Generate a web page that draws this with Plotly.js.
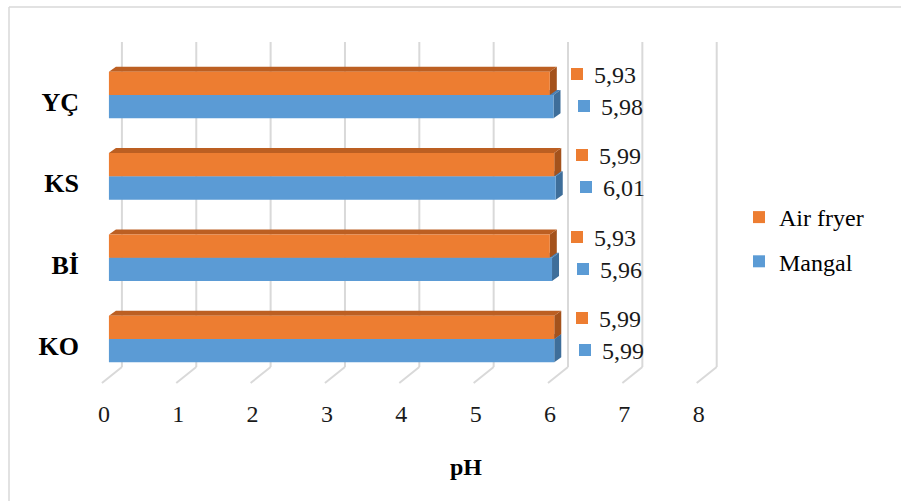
<!DOCTYPE html>
<html>
<head>
<meta charset="utf-8">
<script src="https://cdn.plot.ly/plotly-3.0.1.min.js"></script>
<style>html,body{margin:0;padding:0;background:#fff;}#chart{width:901px;height:501px;}</style>
</head>
<body>
<div id="chart"></div>
<script>
// ---- data ----
const categories = ['KO', 'Bİ', 'KS', 'YÇ'];
const airFryer = [5.99, 5.93, 5.99, 5.93];
const mangal = [5.99, 5.96, 6.01, 5.98];
const seriesNames = ['Air fryer', 'Mangal'];
const xTicks = [0, 1, 2, 3, 4, 5, 6, 7, 8];
const xTitle = 'pH';

// ---- style ----
const FONT = '"Liberation Serif", "Times New Roman", serif';
const ORANGE = '#ED7D31', ORANGE_TOP = '#BC5F22', ORANGE_SIDE = '#A4521C';
const BLUE = '#5B9BD5', BLUE_TOP = '#4A82B8', BLUE_SIDE = '#3E6E9A';
const GRID = '#D9D9D9';
const W = 901, H = 501;
const L = 100, R = 175, T = 42, B = 118;
const xRange = [-0.12, 8.3];
const yRange = [-0.541, 3.652];
const bargap = 0.427;
const barW = (1 - bargap) / 2;
const pxPerX = (W - L - R) / (xRange[1] - xRange[0]);
const pxPerY = (H - T - B) / (yRange[1] - yRange[0]);
const depthX = 7 / pxPerX, depthY = 5 / pxPerY;

const ypos = categories.map((c, i) => i);

const traces = [
  {type: 'bar', orientation: 'h', name: seriesNames[1], y: ypos, x: mangal,
   marker: {color: BLUE}, legendgroup: 'b', legendrank: 2, hoverinfo: 'x'},
  {type: 'bar', orientation: 'h', name: seriesNames[0], y: ypos, x: airFryer,
   marker: {color: ORANGE}, legendgroup: 'a', legendrank: 1, hoverinfo: 'x'}
];

const shapes = [];
// chart frame
shapes.push({type: 'line', xref: 'paper', yref: 'paper', x0: (9 - L) / (W - L - R), x1: (9 - L) / (W - L - R),
  y0: (H - B - 7) / (H - T - B), y1: (H - B - 501) / (H - T - B), line: {color: GRID, width: 1.5}});
shapes.push({type: 'line', xref: 'paper', yref: 'paper', x0: (9 - L) / (W - L - R), x1: (901 - L) / (W - L - R),
  y0: (H - B - 7) / (H - T - B), y1: (H - B - 7) / (H - T - B), line: {color: GRID, width: 1.5}});
// 3D back-wall and floor gridlines
const wallBottom = 16 / (H - T - B);
xTicks.forEach(t => {
  shapes.push({type: 'line', layer: 'below', xref: 'x', xsizemode: 'pixel', xanchor: t, x0: 13, x1: 13,
    yref: 'paper', y0: wallBottom, y1: 1, line: {color: GRID, width: 2}});
  shapes.push({type: 'line', layer: 'below', xref: 'x', xsizemode: 'pixel', xanchor: t, x0: 13, x1: -7,
    yref: 'paper', y0: wallBottom, y1: 0, line: {color: GRID, width: 2}});
});
// 3D faces of bars
function poly(pts) {
  return 'M' + pts.map(p => p[0] + ',' + p[1]).join(' L') + ' Z';
}
ypos.forEach((k, i) => {
  const vb = mangal[i], vo = airFryer[i];
  shapes.push({type: 'path', layer: 'below', xref: 'x', yref: 'y', line: {width: 0}, fillcolor: BLUE_TOP,
    path: poly([[0, k], [vb, k], [vb + depthX, k + depthY], [depthX, k + depthY]])});
  shapes.push({type: 'path', layer: 'below', xref: 'x', yref: 'y', line: {width: 0}, fillcolor: BLUE_SIDE,
    path: poly([[vb, k - barW], [vb, k], [vb + depthX, k + depthY], [vb + depthX, k - barW + depthY]])});
  shapes.push({type: 'path', layer: 'below', xref: 'x', yref: 'y', line: {width: 0}, fillcolor: ORANGE_SIDE,
    path: poly([[vo, k], [vo, k + barW], [vo + depthX, k + barW + depthY], [vo + depthX, k + depthY]])});
  shapes.push({type: 'path', layer: 'below', xref: 'x', yref: 'y', line: {width: 0}, fillcolor: ORANGE_TOP,
    path: poly([[0, k + barW], [vo, k + barW], [vo + depthX, k + barW + depthY], [depthX, k + barW + depthY]])});
});

const annotations = [];
const fmt = v => v.toFixed(2).replace('.', ',');
ypos.forEach((k, i) => {
  [[airFryer[i], ORANGE, 27.5, 21], [mangal[i], BLUE, 30.5, -11]].forEach(([v, col, sx, sy]) => {
    annotations.push({x: v, y: k, xref: 'x', yref: 'y', text: ' ', showarrow: false,
      width: 12, height: 12, bgcolor: col, borderpad: 0, borderwidth: 0,
      font: {size: 6}, xanchor: 'center', yanchor: 'middle', xshift: sx, yshift: sy});
    annotations.push({x: v, y: k, xref: 'x', yref: 'y', text: fmt(v), showarrow: false,
      borderpad: 0, borderwidth: 0, font: {family: FONT, size: 24, color: '#1a1a1a'},
      xanchor: 'left', yanchor: 'middle', xshift: sx + 17, yshift: sy - 1});
  });
});
annotations.push({text: '<b>' + xTitle + '</b>', xref: 'paper', yref: 'paper',
  x: (466 - L) / (W - L - R), y: (H - B - 467) / (H - T - B), showarrow: false,
  xanchor: 'center', yanchor: 'middle', font: {family: FONT, size: 24, color: '#000'}});

const layout = {
  width: W, height: H,
  margin: {l: L, r: R, t: T, b: B, pad: 0},
  paper_bgcolor: '#fff', plot_bgcolor: 'rgba(0,0,0,0)',
  barmode: 'group', bargap: bargap, bargroupgap: 0,
  font: {family: FONT, color: '#000'},
  xaxis: {range: xRange, tickvals: xTicks, ticktext: xTicks.map(String), showgrid: false, zeroline: false,
    showline: false, ticks: '', tickfont: {family: FONT, size: 24, color: '#1a1a1a'},
    ticklabelstandoff: 14, ticklabelshift: -5, fixedrange: true},
  yaxis: {range: yRange, tickvals: ypos, ticktext: categories.map(c => '<b>' + c + '</b>'), showgrid: false,
    zeroline: false, showline: false, ticks: '', tickfont: {family: FONT, size: 26, color: '#000'},
    ticklabelstandoff: 20, ticklabelshift: 7, fixedrange: true},
  legend: {x: (739 - L) / (W - L - R), y: (H - B - 195) / (H - T - B), xanchor: 'left', yanchor: 'top',
    traceorder: 'grouped', tracegroupgap: 10, font: {family: FONT, size: 24, color: '#000'},
    bgcolor: 'rgba(0,0,0,0)'},
  shapes: shapes,
  annotations: annotations,
  showlegend: true
};

Plotly.newPlot('chart', traces, layout, {displayModeBar: false, staticPlot: true});
</script>
</body>
</html>
